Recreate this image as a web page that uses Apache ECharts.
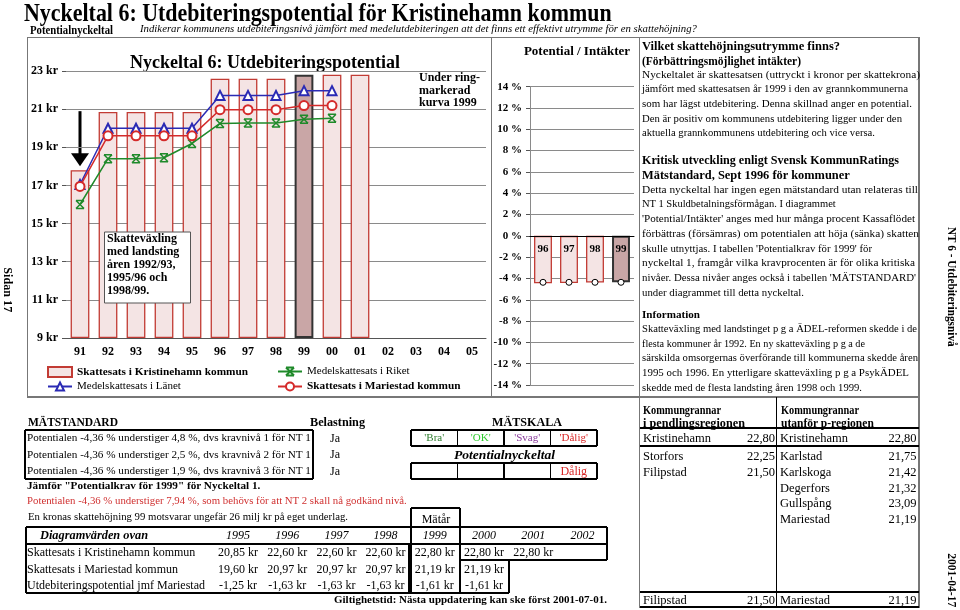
<!DOCTYPE html>
<html><head><meta charset="utf-8">
<script src="https://cdn.jsdelivr.net/npm/echarts@6/dist/echarts.min.js"></script>
<style>
html,body{margin:0;padding:0;background:#fff;}
#wrap{position:relative;width:960px;height:610px;overflow:hidden;font-family:'Liberation Serif','Times New Roman',serif;color:#000;}
#chart{position:absolute;left:0;top:0;width:960px;height:610px;}
.t{position:absolute;white-space:nowrap;transform-origin:0 50%;}
.b{position:absolute;box-sizing:border-box;}
</style></head>
<body><div id="wrap"><div id="chart"></div></div>
<script>
// ---------- data ----------
const years = ['91','92','93','94','95','96','97','98','99','00','01','02','03','04','05'];
const kristinehamn = [17.8, 20.85, 20.85, 20.85, 20.85, 22.6, 22.6, 22.6, 22.8, 22.8, 22.8, null, null, null, null];
const lanet = [17.05, 20.0, 20.0, 20.0, 20.0, 21.72, 21.72, 21.72, 21.97, 21.97, null, null, null, null, null];
const mariestad = [16.95, 19.6, 19.6, 19.6, 19.6, 20.97, 20.97, 20.97, 21.19, 21.19, null, null, null, null, null];
const riket = [16.0, 18.4, 18.4, 18.45, 19.2, 20.25, 20.27, 20.27, 20.47, 20.52, null, null, null, null, null];
const highlightYear = '99';
const potYears = ['96','97','98','99'];
const potIntakter = [-4.45, -4.42, -4.38, -4.36];
const potMarker = [-4.36, -4.36, -4.36, -4.36];
const kronaTicksSuffix = ' kr';
const pctSuffix = ' %';

const tableYears = ['1995','1996','1997','1998','1999','2000','2001','2002'];
const rowKristinehamn = ['20,85 kr','22,60 kr','22,60 kr','22,60 kr','22,80 kr','22,80 kr','22,80 kr'];
const rowMariestad = ['19,60 kr','20,97 kr','20,97 kr','20,97 kr','21,19 kr','21,19 kr'];
const rowPotential = ['-1,25 kr','-1,63 kr','-1,63 kr','-1,63 kr','-1,61 kr','-1,61 kr'];
const grannarP = [['Kristinehamn','22,80'],['Storfors','22,25'],['Filipstad','21,50']];
const grannarU = [['Kristinehamn','22,80'],['Karlstad','21,75'],['Karlskoga','21,42'],['Degerfors','21,32'],['Gullspång','23,09'],['Mariestad','21,19']];
const grannarMinP = ['Filipstad','21,50'];
const grannarMinU = ['Mariestad','21,19'];

// ---------- chart ----------
const FF = 'Liberation Serif';
const chart = echarts.init(document.getElementById('chart'), null, {renderer:'canvas'});
const barStyle = {color:'#f4e4e4', borderColor:'#c23b34', borderWidth:1.3};
const hiStyle = {color:'#c9a6a6', borderColor:'#333333', borderWidth:2};
const grid2 = {left:530,top:86.7,width:104,height:298.3};
const option = {
  animation:false,
  textStyle:{fontFamily:FF},
  grid:[{left:66,top:71,width:420,height:267},grid2],
  xAxis:[
    {gridIndex:0,type:'category',data:years,
     axisLine:{lineStyle:{color:'#555',width:1}},
     axisTick:{length:4,lineStyle:{color:'#555'}},
     axisLabel:{fontWeight:'bold',fontSize:12,color:'#000',margin:8,fontFamily:FF}},
    {gridIndex:1,type:'category',data:potYears,position:'bottom',offset:-grid2.height/2,z:10,
     axisLine:{onZero:false,lineStyle:{color:'#000',width:1}},
     axisTick:{inside:true,length:4,lineStyle:{color:'#555'}},
     axisLabel:{fontWeight:'bold',fontSize:11,color:'#000',margin:8,fontFamily:FF}}
  ],
  yAxis:[
    {gridIndex:0,type:'value',min:9,max:23,interval:2,startValue:9,
     axisLine:{show:false},axisTick:{show:true,length:4,lineStyle:{color:'#555'}},
     splitLine:{lineStyle:{color:'#8a8a8a'}},
     axisLabel:{formatter:v=>v+kronaTicksSuffix,fontWeight:'bold',fontSize:12,color:'#000',margin:8,fontFamily:FF}},
    {gridIndex:1,type:'value',min:-14,max:14,interval:2,
     axisLine:{show:true,lineStyle:{color:'#8a8a8a'}},axisTick:{show:true,length:4,lineStyle:{color:'#555'}},
     splitLine:{lineStyle:{color:'#8a8a8a'}},
     axisLabel:{formatter:v=>v+pctSuffix,fontWeight:'bold',fontSize:11,color:'#000',margin:8,fontFamily:FF}}
  ],
  legend:[
    {left:42,top:361,itemWidth:24,itemHeight:10,data:[{name:'Skattesats i Kristinehamn kommun',icon:'rect'}],textStyle:{fontWeight:'bold',fontSize:11.3,fontFamily:FF,color:'#000'}},
    {left:272,top:361,itemWidth:24,itemHeight:10,data:['Medelskattesats i Riket'],textStyle:{fontSize:11,fontFamily:FF,color:'#000'}},
    {left:42,top:376,itemWidth:24,itemHeight:10,data:['Medelskattesats i Länet'],textStyle:{fontSize:11,fontFamily:FF,color:'#000'}},
    {left:272,top:376,itemWidth:24,itemHeight:10,data:['Skattesats i Mariestad kommun'],textStyle:{fontWeight:'bold',fontSize:11.3,fontFamily:FF,color:'#000'}}
  ],
  series:[
    {name:'Skattesats i Kristinehamn kommun',type:'bar',xAxisIndex:0,yAxisIndex:0,barWidth:'67%',
     itemStyle:barStyle,
     data:kristinehamn.map((v,i)=> years[i]===highlightYear ? {value:v,itemStyle:hiStyle} : v)},
    {name:'Medelskattesats i Riket',type:'line',xAxisIndex:0,yAxisIndex:0,
     symbol:'path://M0,0L10,0M0,10L10,10M0,0L10,10M10,0L0,10',symbolSize:8,
     lineStyle:{color:'#1f8a2a',width:1.5},itemStyle:{color:'rgba(0,0,0,0)',borderColor:'#1f8a2a',borderWidth:1.5},
     data:riket},
    {name:'Medelskattesats i Länet',type:'line',xAxisIndex:0,yAxisIndex:0,
     symbol:'emptyTriangle',symbolSize:9,
     lineStyle:{color:'#2a2ab4',width:1.5},itemStyle:{color:'#2a2ab4',borderWidth:1.3},
     data:lanet},
    {name:'Skattesats i Mariestad kommun',type:'line',xAxisIndex:0,yAxisIndex:0,
     symbol:'emptyCircle',symbolSize:9,
     lineStyle:{color:'#d42a2a',width:1.5},itemStyle:{color:'#d42a2a',borderWidth:1.3},
     data:mariestad},
    {name:'Potential / Intäkter',type:'bar',xAxisIndex:1,yAxisIndex:1,barWidth:'69%',
     itemStyle:barStyle,
     data:potIntakter.map((v,i)=> potYears[i]===highlightYear ? {value:v,itemStyle:hiStyle} : v)},
    {name:'Potentialkrav',type:'line',xAxisIndex:1,yAxisIndex:1,
     symbol:'circle',symbolSize:6,lineStyle:{opacity:0},
     itemStyle:{color:'#fff',borderColor:'#000',borderWidth:1},z:5,
     data:potMarker}
  ],
  graphic:[
    {type:'text',x:265,y:63,style:{text:'Nyckeltal 6: Utdebiteringspotential',font:'bold 18px "Liberation Serif"',fill:'#000',align:'center',verticalAlign:'middle'}},
    {type:'text',x:419,y:78,style:{text:'Under ring-',font:'bold 12px "Liberation Serif"',fill:'#000',verticalAlign:'middle'}},
    {type:'text',x:419,y:91,style:{text:'markerad',font:'bold 12px "Liberation Serif"',fill:'#000',verticalAlign:'middle'}},
    {type:'text',x:419,y:103,style:{text:'kurva 1999',font:'bold 12px "Liberation Serif"',fill:'#000',verticalAlign:'middle'}},
    {type:'rect',shape:{x:104.5,y:232,width:86,height:71},style:{fill:'#fff',stroke:'#555',lineWidth:1},z:20},
    {type:'text',x:107,y:239,z:21,style:{text:'Skatteväxling',font:'bold 12px "Liberation Serif"',fill:'#000',verticalAlign:'middle'}},
    {type:'text',x:107,y:252,z:21,style:{text:'med landsting',font:'bold 12px "Liberation Serif"',fill:'#000',verticalAlign:'middle'}},
    {type:'text',x:107,y:265,z:21,style:{text:'åren 1992/93,',font:'bold 12px "Liberation Serif"',fill:'#000',verticalAlign:'middle'}},
    {type:'text',x:107,y:278,z:21,style:{text:'1995/96 och',font:'bold 12px "Liberation Serif"',fill:'#000',verticalAlign:'middle'}},
    {type:'text',x:107,y:291,z:21,style:{text:'1998/99.',font:'bold 12px "Liberation Serif"',fill:'#000',verticalAlign:'middle'}},
    {type:'text',x:577,y:52,style:{text:'Potential / Intäkter',font:'bold 13px "Liberation Serif"',fill:'#000',align:'center',verticalAlign:'middle'}}
  ]
};
chart.setOption(option);
// arrow pointing at the first bar
const tip = chart.convertToPixel({gridIndex:0}, [years[0], kristinehamn[0]]);
const ax = tip[0], ay = tip[1]-4;
chart.setOption({graphic:option.graphic.concat([
  {type:'rect',shape:{x:ax-1.5,y:ay-55,width:3,height:44},style:{fill:'#000'}},
  {type:'polygon',shape:{points:[[ax-9,ay-13],[ax+9,ay-13],[ax,ay]]},style:{fill:'#000'}}
])});

// ---------- page text & tables ----------
const wrap = document.getElementById('wrap');
const ctx = document.createElement('canvas').getContext('2d');
function T(x, yc, txt, o={}){
  const fs=o.fs||11, fw=o.b?'bold':'normal', st=o.i?'italic':'normal';
  const font=`${st} ${fw} ${fs}px "Liberation Serif"`;
  const d=document.createElement('div'); d.className='t'; d.textContent=txt;
  d.style.font=font; d.style.lineHeight=(fs*1.2)+'px';
  if(o.color) d.style.color=o.color;
  ctx.font=font; const mw=ctx.measureText(txt).width;
  const w=o.w||mw; const sx=w/mw;
  if(o.rot){
    d.style.transformOrigin='50% 50%';
    d.style.left=(x-mw/2)+'px'; d.style.top=(yc-fs*0.6)+'px';
    d.style.transform=`rotate(90deg) scaleX(${sx})`;
  } else {
    let left=x; if(o.a==='c') left=x-w/2; else if(o.a==='r') left=x-w;
    d.style.left=left+'px'; d.style.top=(yc-fs*0.6)+'px';
    if(sx!==1) d.style.transform=`scaleX(${sx})`;
  }
  wrap.appendChild(d);
}
function H(x1,x2,y,w=1,c='#000'){const d=document.createElement('div');d.className='b';d.style.cssText+=`left:${x1}px;top:${y-w/2}px;width:${x2-x1}px;height:${w}px;background:${c}`;wrap.appendChild(d);}
function V(x,y1,y2,w=1,c='#000'){const d=document.createElement('div');d.className='b';d.style.cssText+=`left:${x-w/2}px;top:${y1}px;width:${w}px;height:${y2-y1}px;background:${c}`;wrap.appendChild(d);}

// header
T(24,13,'Nyckeltal 6: Utdebiteringspotential för Kristinehamn kommun',{fs:26,b:true,w:588});
T(30,30,'Potentialnyckeltal',{fs:12,b:true,w:83});
T(140,29,'Indikerar kommunens utdebiteringsnivå jämfört med medelutdebiteringen att det finns ett effektivt utrymme för en skattehöjning?',{fs:10.5,i:true,w:557});

// frames
const FC='#777';
H(27,920,37.5,1,FC); H(27,920,397,1.2,FC);
V(27,37,397,1,FC); V(491.5,37,397,1,FC); V(639.5,37,608,1.2,FC); V(919,37,608,1.2,FC);

// side texts
T(8,290,'Sidan 17',{fs:13,b:true,w:45,rot:true});
T(952,287,'NT 6 - Utdebiteringsnivå',{fs:13,b:true,w:120,rot:true});
T(952,580,'2001-04-17',{fs:12,b:true,w:54,rot:true});

// right info panel
T(642,46,'Vilket skattehöjningsutrymme finns?',{fs:13.5,b:true,w:198});
T(642,61.5,'(Förbättringsmöjlighet intäkter)',{fs:13.5,b:true,w:159});
const p1=[['Nyckeltalet är skattesatsen (uttryckt i kronor per skattekrona)',278],
['jämfört med skattesatsen år 1999 i den av grannkommunerna',266],
['som har lägst utdebitering. Denna skillnad anger en potential.',270],
['Den är positiv om kommunens utdebitering ligger under den',260],
['aktuella grannkommunens utdebitering och vice versa.',233]];
p1.forEach((l,i)=>T(642,75+i*14.6,l[0],{fs:10.5,w:l[1]}));
T(642,160,'Kritisk utveckling enligt Svensk KommunRatings',{fs:13.5,b:true,w:257});
T(642,175.5,'Mätstandard, Sept 1996 för kommuner',{fs:13.5,b:true,w:208});
const p2=[['Detta nyckeltal har ingen egen mätstandard utan relateras till',276],
['NT 1 Skuldbetalningsförmågan. I diagrammet',0],
["'Potential/Intäkter' anges med hur många procent Kassaflödet",273],
['förbättras (försämras) om potentialen att höja (sänka) skatten',277],
["skulle utnyttjas. I tabellen 'Potentialkrav för 1999' för",230],
['nyckeltal 1, framgår vilka kravprocenten är för olika kritiska',273],
["nivåer. Dessa nivåer anges också i tabellen 'MÄTSTANDARD'",274],
['under diagrammet till detta nyckeltal.',162]];
p2.forEach((l,i)=>T(642,190+i*14.7,l[0],{fs:10.5,w:l[1]||undefined}));
T(642,315,'Information',{fs:11,b:true,w:58});
const p3=[['Skatteväxling med landstinget p g a ÄDEL-reformen skedde i de',275],
['flesta kommuner år 1992. En ny skatteväxling p g a de',223],
['särskilda omsorgernas överförande till kommunerna skedde åren',276],
['1995 och 1996. En ytterligare skatteväxling p g a PsykÄDEL',267],
['skedde med de flesta landsting åren 1998 och 1999.',220]];
p3.forEach((l,i)=>T(642,329.5+i*14.6,l[0],{fs:10.5,w:l[1]}));

// MÄTSTANDARD block
T(28,422,'MÄTSTANDARD',{fs:13,b:true,w:90});
T(310,422,'Belastning',{fs:13,b:true,w:55});
const msRows=['Potentialen -4,36 % understiger 4,8 %, dvs kravnivå 1 för NT 1',
'Potentialen -4,36 % understiger 2,5 %, dvs kravnivå 2 för NT 1',
'Potentialen -4,36 % understiger 1,9 %, dvs kravnivå 3 för NT 1'];
msRows.forEach((r,i)=>{T(27,438+i*16.5,r,{fs:11,w:284}); T(335,438+i*16.5,'Ja',{fs:12,a:'c'});});
H(25,313,430,1.2); H(25,313,479,1.2); V(25,430,479,1.2); V(313,430,479,1.6);

// MÄTSKALA
T(527,422,'MÄTSKALA',{fs:13,b:true,w:70,a:'c'});
const scale=[["'Bra'",'#2f7d2f'],["'OK'",'#2fcc2f'],["'Svag'",'#8a3c9c'],["'Dålig'",'#d92626']];
const cx0=411, cw=46.5;
H(cx0,cx0+4*cw,430,1.2); H(cx0,cx0+4*cw,446,1.2); H(cx0,cx0+4*cw,463,1.2); H(cx0,cx0+4*cw,479,1.2);
for(let i=0;i<=4;i++){V(cx0+i*cw,430,446,1.2); V(cx0+i*cw,463,479,1.2);}
scale.forEach((s,i)=>T(cx0+cw*i+cw/2,438,s[0],{fs:11,a:'c',color:s[1]}));
T(cx0+2*cw,455,'Potentialnyckeltal',{fs:13,b:true,i:true,w:101,a:'c'});
T(cx0+3.5*cw,471,'Dålig',{fs:12,a:'c',color:'#d92626'});

T(27,486,'Jämför "Potentialkrav för 1999" för Nyckeltal 1.',{fs:11,b:true,w:234});
T(27,501,'Potentialen -4,36 % understiger 7,94 %, som behövs för att NT 2 skall nå godkänd nivå.',{fs:11,w:380,color:'#d03030'});
T(28,517,'En kronas skattehöjning 99 motsvarar ungefär 26 milj kr på eget underlag.',{fs:10.5,w:320});

// Diagramvärden table
const colC=tableYears.map((y,i)=>238+i*49.2);
T(436,519,'Mätår',{fs:12,a:'c'});
H(411,460,508,1.5); V(411,508,593,1.6); V(460,508,593,1.6);
H(26,607,527,1.5); H(26,607,544,2); H(460,607,560,1.5); H(26,509,593,1.5);
V(26,527,593,1.5); V(607,527,560,1.5); V(509,560,593,1.5); V(409,544,593,1.2);
T(40,535,'Diagramvärden ovan',{fs:13,b:true,i:true,w:108});
tableYears.forEach((y,i)=>T(colC[i],535,y,{fs:12,i:true,a:'c'}));
T(27,552,'Skattesats i Kristinehamn kommun',{fs:12});
T(27,569,'Skattesats i Mariestad kommun',{fs:12});
T(27,585,'Utdebiteringspotential jmf Mariestad',{fs:12});
rowKristinehamn.forEach((v,i)=>T(colC[i],552,v,{fs:12,a:'c'}));
rowMariestad.forEach((v,i)=>T(colC[i],569,v,{fs:12,a:'c'}));
rowPotential.forEach((v,i)=>T(colC[i],585,v,{fs:12,a:'c'}));
T(334,601,'Giltighetstid: Nästa uppdatering kan ske först 2001-07-01.',{fs:9.5,b:true,w:273});

// Kommungrannar tables
V(776.7,397,608,1.2); H(639.5,919,428,1.2); H(639.5,919,446,1.6); H(639.5,919,592,1.2); H(639.5,919,607,1.2);
T(643,410,'Kommungrannar',{fs:12.5,b:true,w:78});
T(643,423,'i pendlingsregionen',{fs:12.5,b:true,w:102});
T(781,410,'Kommungrannar',{fs:12.5,b:true,w:78});
T(781,423,'utanför p-regionen',{fs:12.5,b:true,w:93});
const rowY=[438,456,472,488,503.5,519];
grannarP.forEach((g,i)=>{T(643,rowY[i],g[0],{fs:12.5}); T(775,rowY[i],g[1],{fs:12.5,a:'r'});});
grannarU.forEach((g,i)=>{T(780,rowY[i],g[0],{fs:12.5}); T(916.5,rowY[i],g[1],{fs:12.5,a:'r'});});
T(643,600,grannarMinP[0],{fs:12.5}); T(775,600,grannarMinP[1],{fs:12.5,a:'r'});
T(780,600,grannarMinU[0],{fs:12.5}); T(916.5,600,grannarMinU[1],{fs:12.5,a:'r'});
</script>
</body></html>
